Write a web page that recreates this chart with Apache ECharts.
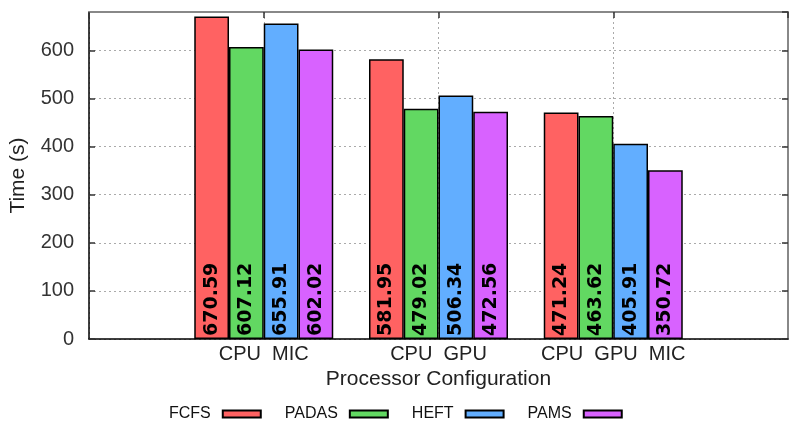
<!DOCTYPE html>
<html>
<head>
<meta charset="utf-8">
<script src="https://cdn.jsdelivr.net/npm/echarts@6/dist/echarts.min.js"></script>
<style>html,body{margin:0;padding:0;background:#fff}#c{width:800px;height:434px}</style>
</head>
<body>
<div id="c"></div>
<script>
const categories = ['', 'CPU  MIC', 'CPU  GPU', 'CPU  GPU  MIC', ''];
const seriesNames = ['FCFS', 'PADAS', 'HEFT', 'PAMS'];
const fcfs  = [null, 670.59, 581.95, 471.24, null];
const padas = [null, 607.12, 479.02, 463.62, null];
const heft  = [null, 655.91, 506.34, 405.91, null];
const pams  = [null, 602.02, 472.56, 350.72, null];
const yTicks = { min: 0, max: 680, interval: 100 };
const colors = ['#ff6262', '#62d862', '#62aeff', '#d862ff'];

const chart = echarts.init(document.getElementById('c'));
const sans = 'Liberation Sans';
const values = [fcfs, padas, heft, pams];
const series = values.map((v, i) => ({
  name: seriesNames[i],
  type: 'bar',
  data: v,
  barWidth: 34.75,
  barGap: '0%',
  itemStyle: { color: colors[i], borderColor: '#000', borderWidth: 1.5 },
  label: {
    show: true,
    position: 'insideBottom',
    distance: 3,
    rotate: 90,
    align: 'left',
    verticalAlign: 'middle',
    fontFamily: 'DejaVu Sans',
    fontWeight: 'bold',
    fontSize: 19,
    color: '#000',
    formatter: p => p.value.toFixed(2)
  }
}));

chart.setOption({
  animation: false,
  color: colors,
  grid: { left: 88, right: 12, top: 12, bottom: 95 },
  legend: {
    data: seriesNames,
    left: 164,
    top: 401,
    align: 'right',
    itemGap: 23,
    itemWidth: 38,
    itemHeight: 7,
    icon: 'rect',
    textStyle: { fontFamily: sans, fontSize: 16, color: '#111', padding: [0, 7, 0, 0] }
  },
  xAxis: [{
    type: 'category',
    data: categories,
    boundaryGap: false,
    name: 'Processor Configuration',
    nameLocation: 'middle',
    nameGap: 30,
    nameTextStyle: { fontFamily: sans, fontSize: 21, color: '#222' },
    axisLine: { onZero: false, lineStyle: { color: '#000', width: 1.5 } },
    axisTick: { show: false },
    axisLabel: { interval: 0, margin: 5, fontFamily: sans, fontSize: 20, color: '#222' },
    splitLine: { show: true, lineStyle: { color: '#aaa', type: [2, 3], width: 1 } }
  }, {
    type: 'category',
    data: categories,
    boundaryGap: false,
    position: 'top',
    axisLine: { onZero: false, lineStyle: { color: '#888', width: 2 } },
    axisTick: { show: true, inside: true, length: 6, lineStyle: { color: '#333', width: 1.5 } },
    axisLabel: { show: false },
    splitLine: { show: false }
  }],
  yAxis: [{
    type: 'value',
    min: yTicks.min, max: yTicks.max, interval: yTicks.interval,
    name: 'Time (s)',
    nameLocation: 'middle',
    nameGap: 60,
    nameTextStyle: { fontFamily: sans, fontSize: 21, color: '#222' },
    axisLine: { show: true, onZero: false, lineStyle: { color: '#000', width: 1.5 } },
    axisTick: { show: true, inside: true, length: 6, lineStyle: { color: '#333', width: 1.5 } },
    axisLabel: { margin: 15, fontFamily: sans, fontSize: 20, color: '#333', showMaxLabel: false },
    splitLine: { show: true, lineStyle: { color: '#aaa', type: [2, 3], width: 1 } }
  }, {
    type: 'value',
    position: 'right',
    min: yTicks.min, max: yTicks.max, interval: yTicks.interval,
    axisLine: { show: true, onZero: false, lineStyle: { color: '#888', width: 2 } },
    axisTick: { show: true, inside: true, length: 6, lineStyle: { color: '#333', width: 1.5 } },
    axisLabel: { show: false },
    splitLine: { show: false }
  }],
  series: series
});
</script>
</body>
</html>
